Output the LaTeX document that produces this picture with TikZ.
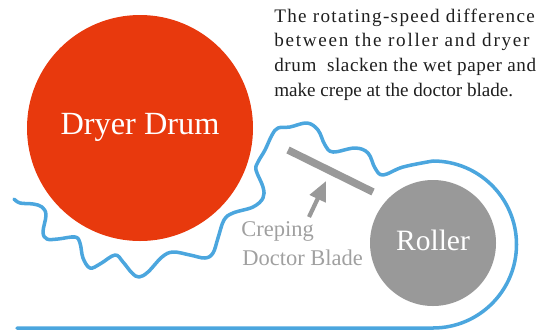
\documentclass[tikz,border=0pt]{standalone}
\usepackage{fontspec}
\setmainfont{Liberation Serif}
\usetikzlibrary{arrows.meta, positioning, calc}
\definecolor{drumred}{RGB}{232, 57, 13}
\definecolor{paperblue}{RGB}{75, 166, 222}
\definecolor{rollergray}{RGB}{153, 153, 153}
\definecolor{labelgray}{RGB}{160, 160, 160}
\definecolor{notetext}{RGB}{30, 30, 30}
\tikzset{
  notetxt/.style={anchor=base west, inner sep=0pt, text=notetext, font=\fontsize{13.6}{15}\selectfont},
  bladetxt/.style={anchor=base west, inner sep=0pt, text=labelgray, font=\fontsize{16}{18}\selectfont},
}
\begin{document}
\begin{tikzpicture}[x=0.025cm, y=-0.025cm]
  \useasboundingbox (0,0) rectangle (538,330);

  % drum and roller
  \fill[drumred] (140,128) circle (113);
  \fill[rollergray] (433,243) circle (63);
  \node[white, font=\fontsize{23}{25}\selectfont] (drum) at (140,127) {Dryer Drum};
  \node[white, font=\fontsize{21}{23}\selectfont] (roller) at (433,240) {Roller};

  % wet paper
  \draw[paperblue, line width=2.5pt, line cap=round, line join=round]
    plot[smooth, tension=0.6] coordinates {
      (14,199) (20,203) (33,204) (42,207) (46,215) (43,232) (47,239) (58,239)
      (75,237) (80,243) (83,258) (90,268) (100,264) (115,255) (123,262) (132,273)
      (139,277) (148,272) (162,257) (173,252) (190,255) (205,258) (213,253)
      (218,238) (224,220) (233,213) (253,207) (263,198) (263,187) (256,170)
      (258,162) (265,150) (272,135) (278,128) (290,127) (307,123) (318,130)
      (325,145) (333,152) (355,148) (368,153) (375,168) (383,175) (403,167) (433,161)}
    arc[start angle=-90, end angle=90, radius=83.5] -- (17,328);

  % doctor blade
  \draw[rollergray, line width=5.3pt] (288,150) -- (373,192);
  \coordinate (bladetip) at (326,181);
  \coordinate (bladetail) at (309,217);
  \draw[rollergray, line width=3pt, -{Stealth[length=14pt, width=12pt, inset=0pt]}] (bladetail) -- (bladetip);
  \node[bladetxt] (creping) at (241,236) {Creping};
  \node[bladetxt] (doctor) at (242,265) {Doctor Blade};

  % note
  \node[notetxt] (noteA) at (274,22) {\addfontfeature{LetterSpace=7}The rotating-speed difference};
  \node[notetxt] (noteB) at (274,46) {\addfontfeature{LetterSpace=9}between the roller and dryer};
  \node[notetxt] (noteC) at (274,71) {\addfontfeature{LetterSpace=3}drum\ \ slacken the wet paper and};
  \node[notetxt] (noteD) at (274,96) {make crepe at the doctor blade.};
\end{tikzpicture}
\end{document}
